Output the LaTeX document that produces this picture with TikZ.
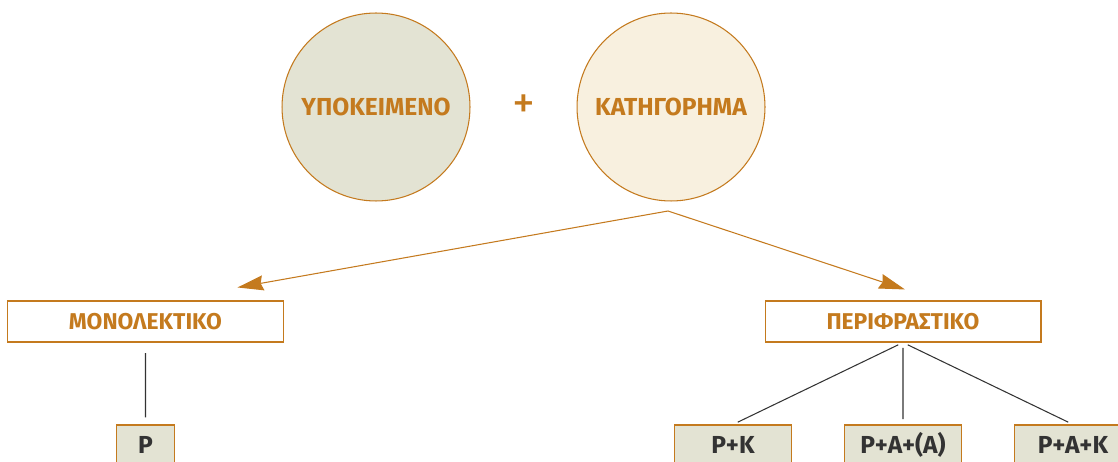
\documentclass[tikz,border=0pt]{standalone}
\usepackage{fontspec}
\setmainfont{Fira Sans}
\usetikzlibrary{arrows.meta,positioning}

\definecolor{ochre}{HTML}{C47A1E}
\definecolor{sage}{HTML}{E3E3D3}
\definecolor{cream}{HTML}{F8F0DF}
\definecolor{ink}{HTML}{333333}

\tikzset{
  bigcircle/.style = {circle, draw=ochre, line width=0.6pt, minimum size=3.76cm,
                      text=ochre, font=\bfseries\fontsize{14}{16}\selectfont},
  typebox/.style   = {draw=ochre, line width=0.6pt, fill=white, minimum width=5.52cm,
                      minimum height=0.82cm, text=ochre, font=\bfseries\fontsize{13}{15}\selectfont},
  formbox/.style   = {draw=ochre, line width=0.6pt, fill=sage, minimum width=2.34cm,
                      minimum height=0.8cm, text=ink, font=\bfseries\fontsize{14}{16}\selectfont},
  splitarrow/.style = {draw=ochre, line width=0.6pt, -{Stealth[length=0.52cm,width=0.3cm,inset=0.05cm]}}
}

\begin{document}
\begin{tikzpicture}[x=0.02cm, y=-0.02cm]
        \useasboundingbox (0,0) rectangle (1118,462);
        \node[bigcircle, fill=sage] (subj) at (376,107) {ΥΠΟΚΕΙΜΕΝΟ};
        \node[bigcircle, fill=cream] (pred) at (671,107) {ΚΑΤΗΓΟΡΗΜΑ};
        \node[text=ochre, font=\fontsize{26}{28}\selectfont] (plus) at (524,107) {+};
        \coordinate (split) at (668,211);

        \node[typebox] (mono) at (145.5,321.5) {ΜΟΝΟΛΕΚΤΙΚΟ}
            [level distance = 2.47cm,
             edge from parent/.style = {draw=ink, line width=0.6pt, shorten <=6pt, shorten >=4pt},
             edge from parent path = {(\tikzparentnode.south) -- (\tikzchildnode.north)}]
            child {node[formbox, minimum width=1.16cm] (p) {P}};

        \node[typebox] (peri) at (903,321.5) {ΠΕΡΙΦΡΑΣΤΙΚΟ}
            [sibling distance = 3.4cm, level distance = 2.47cm,
             edge from parent/.style = {draw=ink, line width=0.6pt, shorten <=3pt, shorten >=3pt},
             edge from parent path = {(\tikzparentnode.south) -- (\tikzchildnode.north)}]
            child {node[formbox] (pk) {P+K}}
            child {node[formbox] (paa) {P+A+(A)}}
            child {node[formbox] (pak) {P+A+K}};

        \draw[splitarrow] (split) -- ([xshift=1.84cm, yshift=0.26cm]mono.north);
        \draw[splitarrow] (split) -- ([xshift=0.04cm, yshift=0.22cm]peri.north);
\end{tikzpicture}
\end{document}
